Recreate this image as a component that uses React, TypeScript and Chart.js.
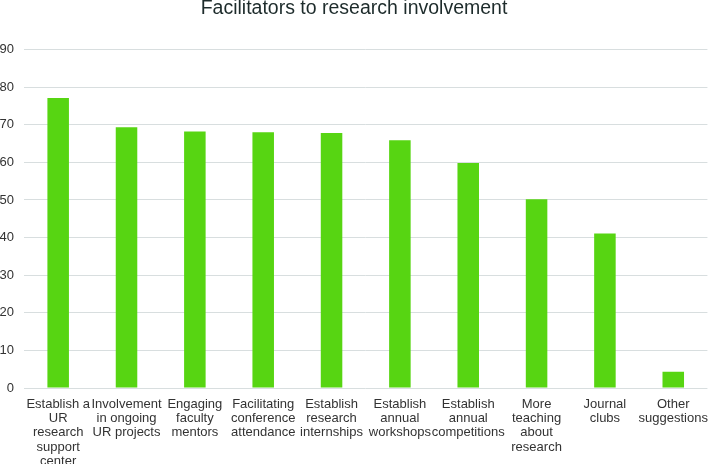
import React, { useEffect, useRef } from "react";
import { Chart, registerables } from "chart.js";

Chart.register(...registerables);

const categories: string[][] = [
  ["Establish a", "UR", "research", "support", "center"],
  ["Involvement", "in ongoing", "UR projects"],
  ["Engaging", "faculty", "mentors"],
  ["Facilitating", "conference", "attendance"],
  ["Establish", "research", "internships"],
  ["Establish", "annual", "workshops"],
  ["Establish", "annual", "competitions"],
  ["More", "teaching", "about", "research"],
  ["Journal", "clubs"],
  ["Other", "suggestions"],
];
const values: number[] = [77.1, 69.3, 68.2, 68.0, 67.8, 65.9, 59.8, 50.2, 41.1, 4.3];
const titleText = "Facilitators to research involvement";

export default function App() {
  const ref = useRef<HTMLCanvasElement | null>(null);
  useEffect(() => {
    document.body.style.margin = "0";
    const ctx = ref.current!;
    const chart = new Chart(ctx, {
      type: "bar",
      data: {
        labels: categories,
        datasets: [
          {
            data: values,
            backgroundColor: "#57d512",
            borderWidth: 0,
            barPercentage: 0.315,
            categoryPercentage: 1,
          },
        ],
      },
      options: {
        animation: false,
        responsive: false,
        devicePixelRatio: 1,
        layout: { padding: { top: 0, right: 1, left: 0, bottom: 0 } },
        plugins: {
          legend: { display: false },
          tooltip: { enabled: false },
          title: {
            display: true,
            text: titleText,
            color: "#1d2b2b",
            font: { family: "'Liberation Sans', Arial, sans-serif", size: 19.5, weight: "normal", lineHeight: 1 },
            padding: { top: -1, bottom: 31 },
          },
        },
        scales: {
          x: {
            grid: { display: false },
            border: { display: false },
            ticks: {
              color: "#333333",
              maxRotation: 0,
              autoSkip: false,
              padding: 1,
              font: { family: "'Liberation Sans', Arial, sans-serif", size: 13, lineHeight: 1.1 },
            },
            afterFit: (s: any) => {
              s.height = 76;
            },
          },
          y: {
            min: 0,
            max: 90,
            ticks: {
              stepSize: 10,
              color: "#333333",
              padding: 10,
              font: { family: "'Liberation Sans', Arial, sans-serif", size: 13 },
            },
            grid: { color: "#d8dedf", lineWidth: 1, drawTicks: false },
            border: { display: false },
            afterFit: (s: any) => {
              s.width = 24;
            },
          },
        },
      },
    });
    return () => chart.destroy();
  }, []);
  return <canvas ref={ref} width={709} height={464} style={{ display: "block" }} />;
}
